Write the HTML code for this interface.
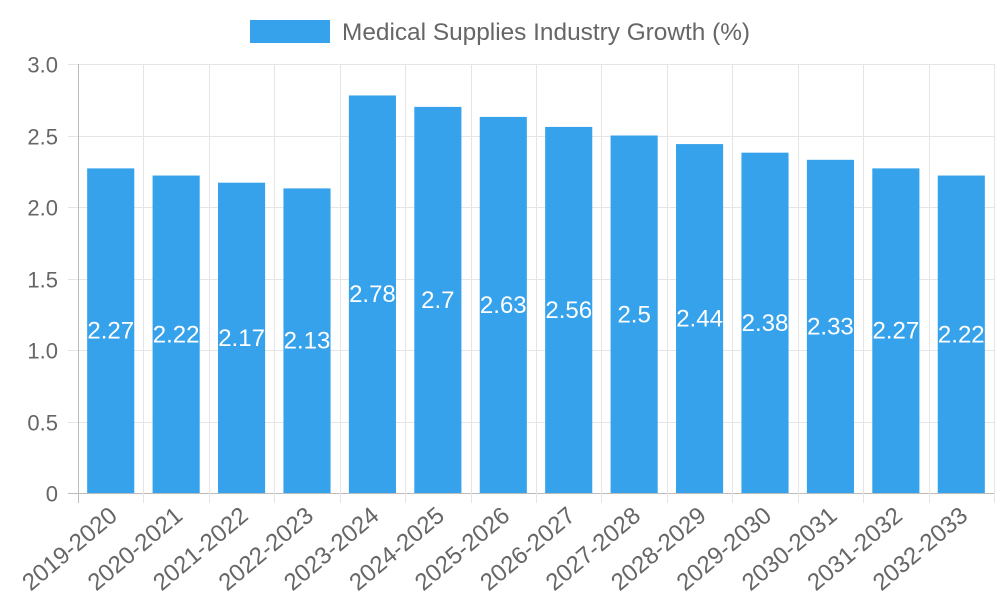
<!DOCTYPE html>
<html><head><meta charset="utf-8"><style>
html,body{margin:0;padding:0;background:#fff;}
svg{display:block;font-family:"Liberation Sans",sans-serif;}
</style></head><body>
<svg id="chart" width="1000" height="600">
<g>
<rect x="250" y="20" width="80" height="23" fill="#36a2eb"/>
<text x="342" y="40" font-size="24.4" fill="#666">Medical Supplies Industry Growth (%)</text>
</g>
</svg>
<script>
const categories=["2019-2020","2020-2021","2021-2022","2022-2023","2023-2024","2024-2025","2025-2026","2026-2027","2027-2028","2028-2029","2029-2030","2030-2031","2031-2032","2032-2033"];
const values=[2.27,2.22,2.17,2.13,2.78,2.7,2.63,2.56,2.5,2.44,2.38,2.33,2.27,2.22];
const yTicks=[0,0.5,1,1.5,2,2.5,3];
const yTickLabels=["0","0.5","1.0","1.5","2.0","2.5","3.0"];
const svg=document.getElementById('chart');
const NS='http://www.w3.org/2000/svg';
const L=78,R=994,T=64,B=493,yMax=3;
const band=(R-L)/categories.length;
const y=v=>B-(v/yMax)*(B-T);
const xc=i=>L+band*(i+0.5);
function mk(tag,attrs,parent){const e=document.createElementNS(NS,tag);for(const k in attrs)e.setAttribute(k,attrs[k]);(parent||svg).appendChild(e);return e;}
const grid=mk('g',{});


yTicks.forEach((t,i)=>{
  const yy=Math.round(y(t))+0.5;
  const ln=mk('line',{x1:68,x2:R,y1:yy,y2:yy,stroke:i==0?'#bbb':'#e5e5e5','stroke-width':1},grid);
  
  
  const tx=mk('text',{x:58,y:yy+8,'text-anchor':'end','font-size':22,fill:'#666'});
  tx.textContent=yTickLabels[i];
  
  
});
for(let i=0;i<=categories.length;i++){
  const xx=Math.round(L+band*i)+0.5;
  const ln=mk('line',{x1:xx,x2:xx,y1:T,y2:B+10,stroke:i==0?'#bbb':'#e5e5e5','stroke-width':1},grid);
  
  
}
const bw=band*0.72;
categories.forEach((c,i)=>{
  const v=values[i];
  const r=mk('rect',{x:xc(i)-bw/2,y:y(v),width:bw,height:B-y(v),fill:'#36a2eb'});
  
  
  const vl=mk('text',{x:xc(i),y:(y(v)+B)/2+8,'text-anchor':'middle','font-size':24,fill:'#fff'});
  vl.textContent=String(v);
  
  
  const xl=mk('text',{x:0,y:0,'text-anchor':'end','font-size':24,fill:'#666',transform:`translate(${xc(i)+8},${B+25}) rotate(-40)`});
  xl.textContent=c;
  
  
});
</script>
</body></html>
